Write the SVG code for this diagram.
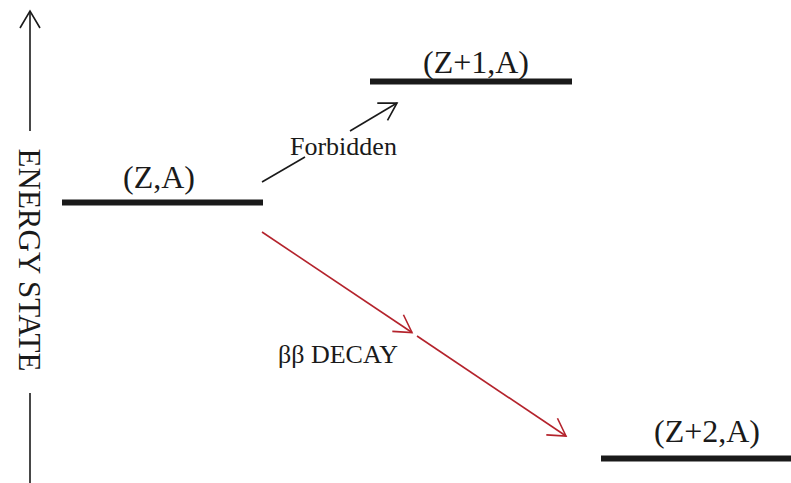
<svg xmlns="http://www.w3.org/2000/svg" width="791" height="483" viewBox="0 0 791 483">
<style>
text{font-family:"Liberation Serif","Times New Roman",serif;fill:#1a1a1a}
.lvl{stroke:#1a1a1a;stroke-width:6;fill:none}
.lab{font-size:32px;text-anchor:middle}
.k{stroke:#1a1a1a;stroke-width:1.6;fill:none}
.r{stroke:#b4232c;stroke-width:1.6;fill:none}
</style>
<defs>
<marker id="ak" markerUnits="userSpaceOnUse" viewBox="-22 -12 24 24" markerWidth="24" markerHeight="24" refX="0" refY="0" orient="auto" overflow="visible">
<path d="M-17,-10 L0,0 L-17,10" fill="none" stroke="#1a1a1a" stroke-width="1.6"/>
</marker>
<marker id="ar" markerUnits="userSpaceOnUse" viewBox="-22 -12 24 24" markerWidth="24" markerHeight="24" refX="0" refY="0" orient="auto" overflow="visible">
<path d="M-17,-10 L0,0 L-17,10" fill="none" stroke="#b4232c" stroke-width="1.6"/>
</marker>
</defs>
<rect width="791" height="483" fill="#fff"/>
<g id="axis">
<line class="k" x1="30" y1="131" x2="30" y2="11" marker-end="url(#ak)"/>
<text x="260" y="-19" font-size="31" text-anchor="middle" transform="rotate(90)">ENERGY STATE</text>
<line class="k" x1="30" y1="393" x2="30" y2="483"/>
</g>
<g id="level-ZA">
<line class="lvl" x1="62" y1="202.5" x2="263" y2="202.5"/>
<text class="lab" x="159" y="188">(Z,A)</text>
</g>
<g id="level-Z1A">
<line class="lvl" x1="370" y1="81.5" x2="572" y2="81.5"/>
<text class="lab" x="476" y="73">(Z+1,A)</text>
</g>
<g id="level-Z2A">
<line class="lvl" x1="601" y1="458.5" x2="791" y2="458.5"/>
<text class="lab" x="707" y="442">(Z+2,A)</text>
</g>
<g id="connectors">
<line class="k" x1="262" y1="182" x2="305" y2="157"/>
<line class="k" x1="350" y1="131" x2="397" y2="103" marker-end="url(#ak)"/>
<text x="290" y="155" font-size="26">Forbidden</text>
<line class="r" x1="262" y1="232" x2="412" y2="332.5" marker-end="url(#ar)"/>
<line class="r" x1="417" y1="336" x2="566" y2="436" marker-end="url(#ar)"/>
<text x="278" y="363" font-size="26">ββ DECAY</text>
</g>
</svg>
